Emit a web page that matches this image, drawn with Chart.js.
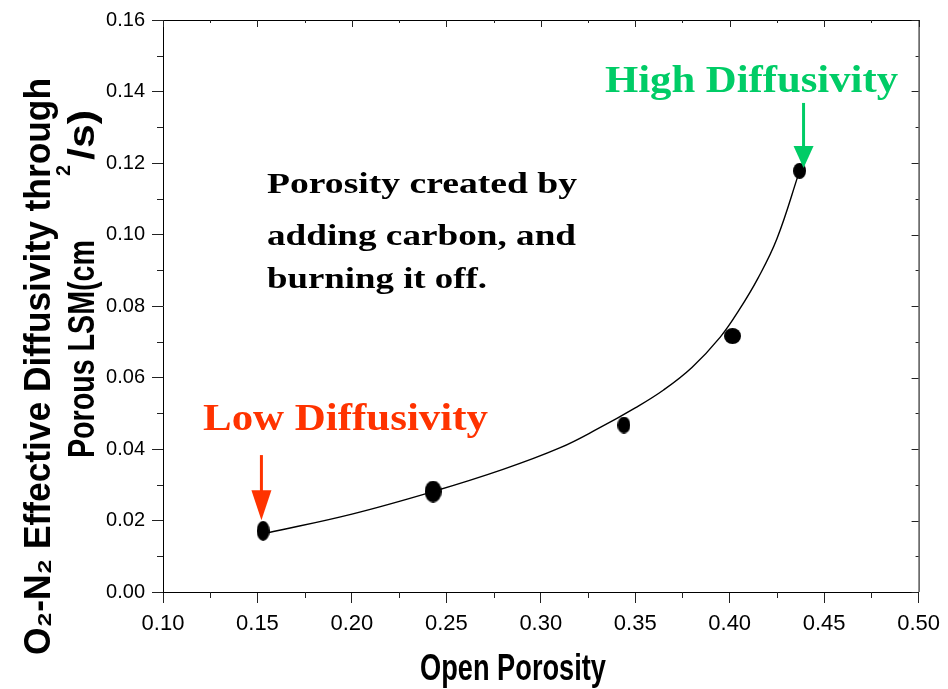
<!DOCTYPE html>
<html lang="en">
<head>
<meta charset="UTF-8">
<title>O2-N2 Effective Diffusivity vs Open Porosity</title>
<script src="https://cdn.jsdelivr.net/npm/chart.js"></script>
<style>
  body { margin: 0; background: #ffffff; }
  #chart { display: block; }
</style>
</head>
<body>
<canvas id="chart" width="948" height="689"></canvas>
<script>
// measured samples
var porosity = [0.153, 0.243, 0.344, 0.4015, 0.437];
var diffusivity = [0.0171, 0.0281, 0.0467, 0.0716, 0.1178];

// fitted curve
var fitPorosity = [0.155, 0.20, 0.243, 0.28, 0.31, 0.33, 0.35, 0.365, 0.38, 0.395, 0.405, 0.415, 0.425, 0.437];
var fitDiffusivity = [0.0165, 0.0218, 0.0281, 0.0343, 0.0403, 0.0456, 0.0515, 0.0565, 0.0628, 0.0713, 0.0789, 0.0878, 0.0988, 0.1178];

var xTicks = [0.10, 0.15, 0.20, 0.25, 0.30, 0.35, 0.40, 0.45, 0.50];
var yTicks = [0.00, 0.02, 0.04, 0.06, 0.08, 0.10, 0.12, 0.14, 0.16];

// dot sizes (w, h) - the markers are slightly squashed ellipses
var dotSizes = [[13, 20], [17, 22], [13, 17], [17, 16], [13, 16]];

var sansNarrow = '"Liberation Sans Narrow", "Liberation Sans", Arial, sans-serif';
var serif = '"Liberation Serif", "Times New Roman", serif';

function makeDot(w, h) {
    var c = document.createElement('canvas');
    c.width = w; c.height = h;
    var g = c.getContext('2d');
    g.fillStyle = '#000';
    g.beginPath();
    g.ellipse(w / 2, h / 2, w / 2, h / 2, 0, 0, 2 * Math.PI);
    g.fill();
    return c;
}

// draw text squeezed/stretched to a given width
function fitText(ctx, text, x, y, w) {
    var m = ctx.measureText(text).width;
    ctx.save();
    ctx.translate(x, y);
    ctx.scale(w / m, 1);
    ctx.textAlign = 'left';
    ctx.fillText(text, 0, 0);
    ctx.restore();
}

function arrow(ctx, x, y0, y1, headLen, headW, color) {
    ctx.save();
    ctx.strokeStyle = color;
    ctx.fillStyle = color;
    ctx.lineWidth = 3;
    ctx.beginPath();
    ctx.moveTo(x, y0);
    ctx.lineTo(x, y1 - headLen + 1);
    ctx.stroke();
    ctx.beginPath();
    ctx.moveTo(x - headW / 2, y1 - headLen);
    ctx.lineTo(x + headW / 2, y1 - headLen);
    ctx.lineTo(x, y1);
    ctx.closePath();
    ctx.fill();
    ctx.restore();
}

var extras = {
    id: 'extras',
    afterDraw: function (chart) {
        var ctx = chart.ctx;
        var xs = chart.scales.x, ys = chart.scales.y;
        var a = chart.chartArea;
        ctx.save();

        // frame
        ctx.strokeStyle = '#000';
        ctx.lineWidth = 1;
        ctx.beginPath();
        ctx.moveTo(a.left, a.top + 0.5);
        ctx.lineTo(a.right + 0.5, a.top + 0.5);
        ctx.lineTo(a.right + 0.5, a.bottom);
        ctx.stroke();

        // minor + mirrored ticks
        ctx.strokeStyle = '#222';
        ctx.beginPath();
        var i, p;
        for (i = 0; i < yTicks.length; i++) {
            p = Math.round(ys.getPixelForValue(yTicks[i])) + 0.5;
            ctx.moveTo(a.right, p); ctx.lineTo(a.right - 7, p);
            if (i < yTicks.length - 1) {
                var pm = Math.round(ys.getPixelForValue((yTicks[i] + yTicks[i + 1]) / 2)) + 0.5;
                ctx.moveTo(a.left, pm); ctx.lineTo(a.left - 6, pm);
                ctx.moveTo(a.right, pm); ctx.lineTo(a.right - 3, pm);
            }
        }
        for (i = 0; i < xTicks.length; i++) {
            p = Math.round(xs.getPixelForValue(xTicks[i])) + 0.5;
            ctx.moveTo(p, a.top); ctx.lineTo(p, a.top + 7);
            if (i < xTicks.length - 1) {
                var qm = Math.round(xs.getPixelForValue((xTicks[i] + xTicks[i + 1]) / 2)) + 0.5;
                ctx.moveTo(qm, a.bottom); ctx.lineTo(qm, a.bottom + 6);
                ctx.moveTo(qm, a.top); ctx.lineTo(qm, a.top + 3);
            }
        }
        ctx.stroke();

        // axis titles
        ctx.fillStyle = '#000';
        ctx.textBaseline = 'alphabetic';
        ctx.font = 'bold 37px ' + sansNarrow;
        fitText(ctx, 'Open Porosity', 420, 680, 186);

        ctx.save();
        ctx.rotate(-Math.PI / 2);
        ctx.font = 'bold 37px ' + sansNarrow;
        fitText(ctx, 'O\u2082-N\u2082 Effective Diffusivity through', -655, 50, 577);
        fitText(ctx, 'Porous LSM(cm', -458, 94, 218);
        fitText(ctx, '/s)', -160, 94, 50);
        ctx.font = 'bold 20px ' + sansNarrow;
        fitText(ctx, '2', -176, 70, 11);
        ctx.restore();

        // annotations
        ctx.font = 'bold 38px ' + serif;
        ctx.fillStyle = '#00cc66';
        fitText(ctx, 'High Diffusivity', 605, 92, 293);
        ctx.fillStyle = '#ff3300';
        fitText(ctx, 'Low Diffusivity', 203, 430, 285);

        ctx.fillStyle = '#000';
        ctx.font = 'bold 30px ' + serif;
        fitText(ctx, 'Porosity created by', 267, 193, 310);
        fitText(ctx, 'adding carbon, and', 267, 245, 309);
        fitText(ctx, 'burning it off.', 267, 288, 220);

        // arrows, anchored through the scales
        arrow(ctx, xs.getPixelForValue(0.1521), ys.getPixelForValue(0.0383), ys.getPixelForValue(0.0201), 30, 20, '#ff3300');
        arrow(ctx, xs.getPixelForValue(0.4391), ys.getPixelForValue(0.1368), ys.getPixelForValue(0.1186), 22, 20, '#00cc66');

        ctx.restore();
    }
};

var fitData = fitPorosity.map(function (x, i) { return { x: x, y: fitDiffusivity[i] }; });
var pointData = porosity.map(function (x, i) { return { x: x, y: diffusivity[i] }; });

new Chart(document.getElementById('chart'), {
    type: 'scatter',
    data: {
        datasets: [{
            label: 'fit',
            data: fitData,
            showLine: true,
            borderColor: '#000',
            borderWidth: 1.4,
            pointRadius: 0,
            tension: 0.4,
            order: 2
        }, {
            label: 'measured',
            data: pointData,
            pointStyle: dotSizes.map(function (s) { return makeDot(s[0], s[1]); }),
            order: 1
        }]
    },
    options: {
        responsive: false,
        animation: false,
        layout: { padding: { left: 0, right: 24, top: 20, bottom: 0 } },
        plugins: { legend: { display: false }, tooltip: { enabled: false } },
        scales: {
            x: {
                type: 'linear',
                min: 0.10, max: 0.50,
                afterBuildTicks: function (s) { s.ticks = xTicks.map(function (v) { return { value: v }; }); },
                afterFit: function (s) { s.height = 97; },
                ticks: {
                    color: '#000',
                    padding: 8,
                    font: { family: sansNarrow, size: 22 },
                    callback: function (v) { return v.toFixed(2); }
                },
                grid: { drawOnChartArea: false, tickLength: 11, color: '#222' },
                border: { color: '#000', width: 1 }
            },
            y: {
                type: 'linear',
                min: 0, max: 0.16,
                afterBuildTicks: function (s) { s.ticks = yTicks.map(function (v) { return { value: v }; }); },
                afterFit: function (s) { s.width = 163; },
                ticks: {
                    color: '#000',
                    padding: 7,
                    font: { family: '"Liberation Sans", Arial, sans-serif', size: 20 },
                    callback: function (v) { return v.toFixed(2); }
                },
                grid: { drawOnChartArea: false, tickLength: 11, color: '#222' },
                border: { color: '#000', width: 1 }
            }
        }
    },
    plugins: [extras]
});
</script>
</body>
</html>
